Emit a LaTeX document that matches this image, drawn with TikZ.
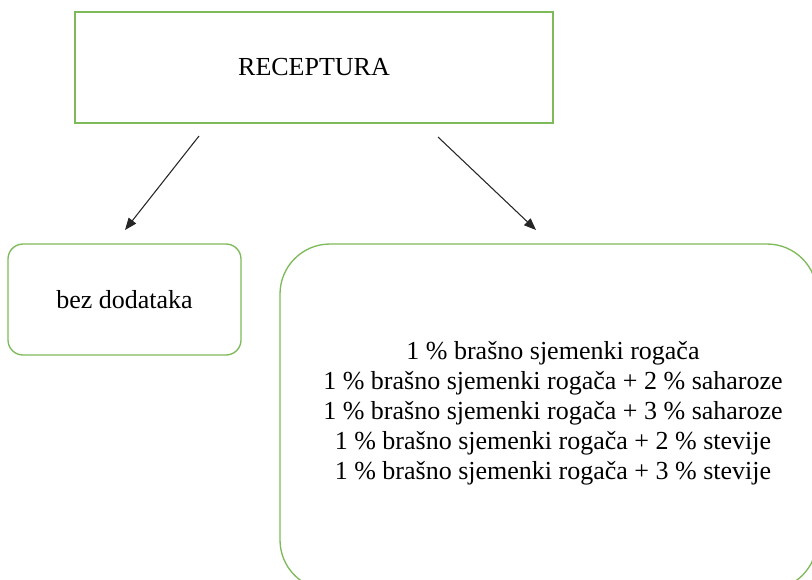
\documentclass[tikz,border=0pt]{standalone}
\usepackage{fontspec}
\setmainfont{Liberation Serif}
\usetikzlibrary{arrows.meta}
\definecolor{boxgreen}{HTML}{7FBA5A}
\tikzset{
  box/.style={draw=boxgreen, line width=1pt, fill=white, inner sep=0pt, align=center,
    font=\fontsize{19.5}{22.5}\selectfont, text=black},
  arr/.style={draw=black!85, line width=0.8pt, -{Triangle[length=9pt,width=7pt]}}
}
\begin{document}
\begin{tikzpicture}[x=0.75pt,y=-0.75pt]
\useasboundingbox (0,0) rectangle (812,579);
\clip (0,0) rectangle (812,579);
\node[box, minimum width=358.5pt, minimum height=83.25pt] (top) at (314,67.5) {RECEPTURA};
\node[box, rounded corners=11.25pt, minimum width=174.75pt, minimum height=83.25pt] (left) at (124.5,299.5) {bez dodataka};
\node[box, rounded corners=37.5pt, minimum width=402.75pt, minimum height=259.5pt] (right) at (548.5,417) {};
\node[font=\fontsize{19.5}{22.5}\selectfont, align=center, inner sep=0pt] (list) at (553,413) {1 \% brašno sjemenki rogača\\
1 \% brašno sjemenki rogača + 2 \% saharoze\\
1 \% brašno sjemenki rogača + 3 \% saharoze\\
1 \% brašno sjemenki rogača + 2 \% stevije\\
1 \% brašno sjemenki rogača + 3 \% stevije};
\coordinate (a1s) at (199,136);
\coordinate (a1e) at (125,230);
\coordinate (a2s) at (438,137);
\coordinate (a2e) at (536,230);
\draw[arr] (a1s) -- (a1e);
\draw[arr] (a2s) -- (a2e);
\end{tikzpicture}
\end{document}
